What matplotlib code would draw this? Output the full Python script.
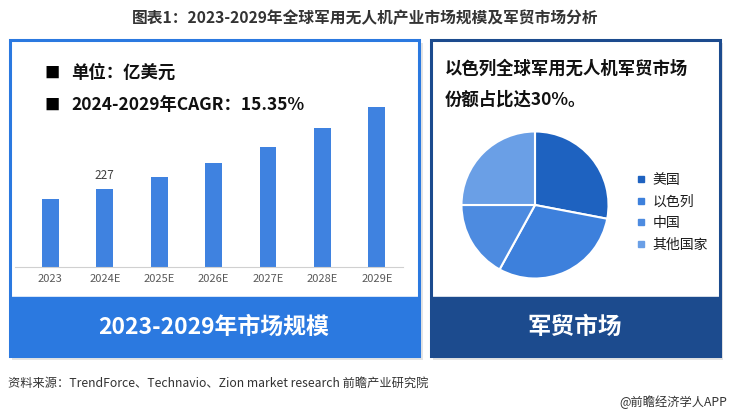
import matplotlib
matplotlib.use("Agg")
import matplotlib.pyplot as plt
from matplotlib.patches import Rectangle
from matplotlib.lines import Line2D

plt.rcParams['font.family'] = ['Noto Sans CJK SC', 'DejaVu Sans']

# data
years = ["2023", "2024E", "2025E", "2026E", "2027E", "2028E", "2029E"]
market_size = [196, 227, 262, 302, 348, 402, 463]   # 亿美元
label_year = "2024E"

countries = ["美国", "以色列", "中国", "其他国家"]
shares = [28, 30, 17, 25]

W, H = 730, 415
fig = plt.figure(figsize=(W / 100, H / 100), dpi=100)
fig.patch.set_facecolor("white")


def fx(px):
    return px / W


def fy(py):
    return 1 - py / H


def box(x0, y0, x1, y1, **kw):
    # rectangle given in pixel coords (top-left origin)
    r = Rectangle((fx(x0), fy(y1)), fx(x1) - fx(x0), fy(y0) - fy(y1),
                  transform=fig.transFigure, **kw)
    fig.patches.append(r)


left_blue = "#2b79e0"
navy = "#1c4b8e"

# shadows
box(12, 43, 423, 360, facecolor="#e4e4e4", edgecolor="none", zorder=0)
box(433, 43, 723, 360, facecolor="#e4e4e4", edgecolor="none", zorder=0)
# panels
box(10, 40, 419, 356, facecolor="white", edgecolor=left_blue, linewidth=2.2, zorder=1)
box(431, 40, 720, 356, facecolor="white", edgecolor=navy, linewidth=2.2, zorder=1)
# bottom bands
box(10, 297, 419, 356, facecolor=left_blue, edgecolor=left_blue, linewidth=1, zorder=2)
box(431, 297, 720, 356, facecolor=navy, edgecolor=navy, linewidth=1, zorder=2)

fig.text(fx(214), fy(327), "2023-2029年市场规模", color="white", fontsize=16.5,
         fontweight="bold", ha="center", va="center", zorder=5)
fig.text(fx(575), fy(327), "军贸市场", color="white", fontsize=17,
         fontweight="bold", ha="center", va="center", zorder=5)

# title
fig.text(0.5, fy(18), "图表1：2023-2029年全球军用无人机产业市场规模及军贸市场分析",
         ha="center", va="center", fontsize=11.3, fontweight="bold", color="#333333")

# bar chart
ax = fig.add_axes([fx(15), fy(267), fx(403) - fx(15), fy(50) - fy(267)])
ax.set_zorder(3)
ax.patch.set_alpha(0)
x = list(range(len(years)))
ax.bar(x, market_size, width=0.31, color="#3f82e0")
ax.set_xlim(-0.65, 6.48)
ax.set_ylim(0, 629)
ax.set_xticks(x)
ax.set_xticklabels(years, fontsize=8, color="#595959")
ax.tick_params(axis="x", length=0, pad=5)
ax.set_yticks([])
for s in ["top", "right", "left"]:
    ax.spines[s].set_visible(False)
ax.spines["bottom"].set_color("#d0d0d0")
i = years.index(label_year)
ax.annotate(str(market_size[i]), (i, market_size[i]), xytext=(0, 5),
            textcoords="offset points", ha="center", va="bottom",
            fontsize=8.5, color="#404040")

# notes on the left panel
fig.text(fx(44), fy(73), "■", fontsize=11, va="center", color="black", zorder=5)
fig.text(fx(71), fy(73), "单位：亿美元", fontsize=12.5, fontweight="bold",
         va="center", color="#111111", zorder=5)
fig.text(fx(44), fy(105), "■", fontsize=11, va="center", color="black", zorder=5)
fig.text(fx(71), fy(105), "2024-2029年CAGR：15.35%", fontsize=12.5, fontweight="bold",
         va="center", color="#111111", zorder=5)

# right panel text
fig.text(fx(445), fy(69), "以色列全球军用无人机军贸市场", fontsize=12.5,
         fontweight="bold", va="center", color="#111111", zorder=5)
fig.text(fx(445), fy(100), "份额占比达30%。", fontsize=12.5,
         fontweight="bold", va="center", color="#111111", zorder=5)

# pie
pie_colors = ["#1e62c0", "#3d80dc", "#4d8be0", "#6a9fe6"]
pax = fig.add_axes([fx(460), fy(280), fx(150), 150 / H])
pax.set_zorder(3)
pax.pie(shares, colors=pie_colors, startangle=90, counterclock=False,
        radius=1, wedgeprops=dict(edgecolor="white", linewidth=1.5))
pax.set_xlim(-1.02, 1.02)
pax.set_ylim(-1.02, 1.02)

handles = [Line2D([], [], marker="s", linestyle="none", markersize=4,
                  markerfacecolor=c, markeredgecolor=c) for c in pie_colors]
leg = fig.legend(handles, countries, loc="upper left",
                 bbox_to_anchor=(fx(630), fy(166)), frameon=False, fontsize=10,
                 handlelength=0.6, handletextpad=0.5, labelspacing=0.55,
                 borderpad=0, labelcolor="#1a1a1a")
for t in leg.get_texts():
    t.set_fontweight("medium")

# footer
fig.text(fx(8), fy(383), "资料来源：TrendForce、Technavio、Zion market research 前瞻产业研究院",
         fontsize=8.8, va="center", color="#333333")
fig.text(fx(727), fy(402), "@前瞻经济学人APP", fontsize=8.8, va="center",
         ha="right", color="#333333")

fig.savefig("out.png", dpi=100)
